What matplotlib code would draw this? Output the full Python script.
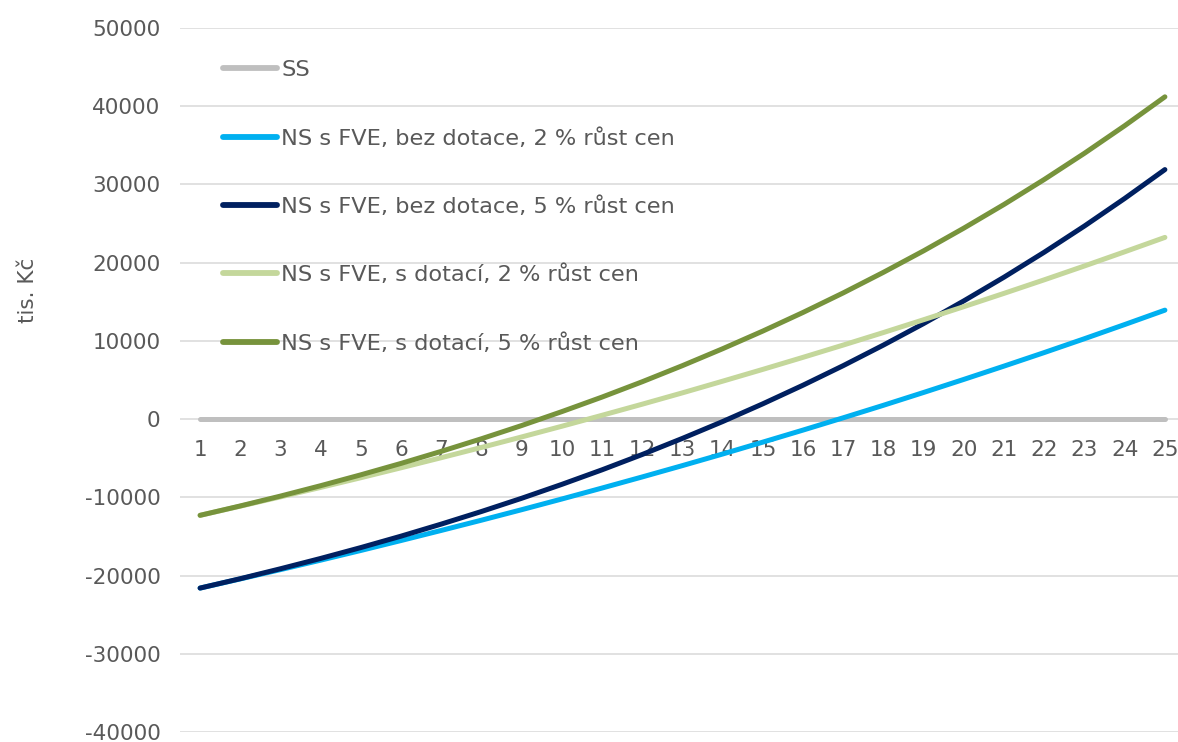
import matplotlib
matplotlib.use("Agg")
import matplotlib.pyplot as plt

plt.rcParams['font.family'] = ['DejaVu Sans']
plt.rcParams['axes.unicode_minus'] = False

# roky
years = list(range(1, 26))

# kumulovaný peněžní tok, tis. Kč
ss = [0] * 25
bez_dot_2 = [-21600, -20430, -19240, -18030, -16790, -15520, -14230, -12920, -11580, -10210,
             -8810, -7390, -5940, -4460, -2940, -1400, 170, 1770, 3410, 5080,
             6780, 8510, 10280, 12090, 13930]
bez_dot_5 = [-21600, -20400, -19130, -17810, -16420, -14960, -13420, -11810, -10120, -8340,
             -6480, -4520, -2460, -310, 1960, 4340, 6840, 9470, 12220, 15120,
             18150, 21340, 24690, 28210, 31900]
s_dot_2 = [-12300, -11130, -9940, -8730, -7490, -6220, -4930, -3620, -2280, -910,
           490, 1910, 3360, 4850, 6360, 7900, 9470, 11070, 12710, 14380,
           16080, 17810, 19580, 21390, 23230]
s_dot_5 = [-12300, -11100, -9840, -8510, -7120, -5660, -4120, -2510, -820, 960,
           2820, 4780, 6840, 9000, 11260, 13640, 16140, 18770, 21520, 24420,
           27450, 30640, 33990, 37510, 41200]

series = [
    ("SS", ss, "#BFBFBF"),
    ("NS s FVE, bez dotace, 2 % růst cen", bez_dot_2, "#00B0F0"),
    ("NS s FVE, bez dotace, 5 % růst cen", bez_dot_5, "#002060"),
    ("NS s FVE, s dotací, 2 % růst cen", s_dot_2, "#C4D79B"),
    ("NS s FVE, s dotací, 5 % růst cen", s_dot_5, "#77933C"),
]

txt = "#595959"

fig = plt.figure(figsize=(11.78, 7.42), dpi=100)
ax = fig.add_axes([180 / 1178, 10 / 742, 1005 / 1178, 704 / 742])

for name, vals, col in series:
    ax.plot(years, vals, color=col, lw=3.6, solid_capstyle='round', label=name)

ax.set_xlim(0.5, 25.5)
ax.set_ylim(-40000, 50000)
ax.set_yticks(range(-40000, 50001, 10000))
ax.set_xticks(years)

ax.grid(axis='y', color='#D9D9D9', lw=1.1)
ax.set_axisbelow(True)
for sp in ['top', 'right', 'left']:
    ax.spines[sp].set_visible(False)
ax.spines['bottom'].set_position(('data', 0))
ax.spines['bottom'].set_visible(False)

ax.tick_params(axis='y', length=0, pad=14, labelsize=15.5, labelcolor=txt)
ax.tick_params(axis='x', length=0, pad=15, labelsize=15.5, labelcolor=txt)

fig.text(28 / 1178, 1 - 290 / 742, "tis. Kč", rotation=90, ha='center', va='center',
         fontsize=15.5, color=txt)

leg = ax.legend(loc='upper left', bbox_to_anchor=(0.034, 0.967), frameon=False,
                fontsize=16.2, handlelength=2.4, handletextpad=0.18, labelspacing=2.12,
                borderaxespad=0)
for t in leg.get_texts():
    t.set_color(txt)
for h in leg.get_lines():
    h.set_linewidth(4.2)

fig.savefig("out.png", dpi=100)
